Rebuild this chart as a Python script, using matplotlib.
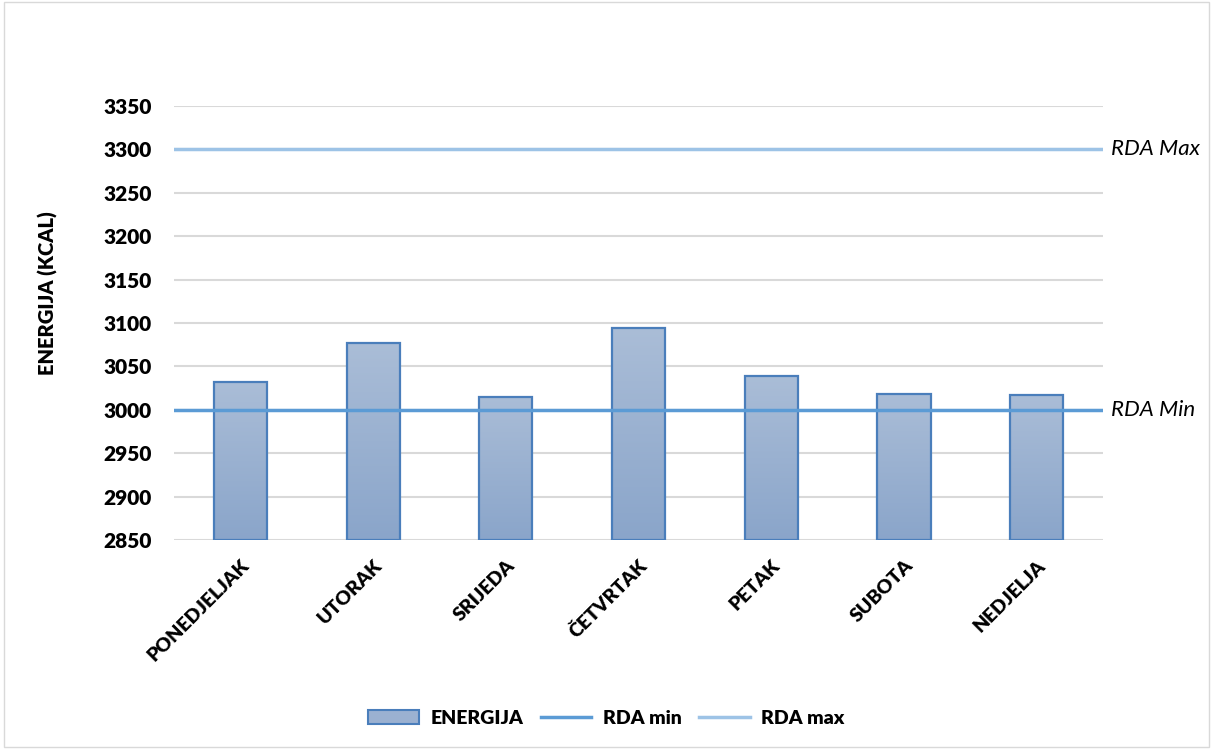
import numpy as np
import matplotlib.pyplot as plt
from matplotlib.patches import Patch
from matplotlib.lines import Line2D
from matplotlib.colors import LinearSegmentedColormap

days = ['PONEDJELJAK', 'UTORAK', 'SRIJEDA', 'ČETVRTAK', 'PETAK', 'SUBOTA', 'NEDJELJA']
energija = [3032, 3077, 3015, 3094, 3039, 3018, 3017]
rda_min = 3000
rda_max = 3300
y_ticks = [2850, 2900, 2950, 3000, 3050, 3100, 3150, 3200, 3250, 3300, 3350]

plt.rcParams['font.family'] = ['Lato', 'DejaVu Sans']
W = 'heavy'

fig = plt.figure(figsize=(12.13, 7.49), dpi=100)
ax = fig.add_axes([0.1434, 0.279, 0.766, 0.5795])

x = np.arange(len(days))
ax.set_xlim(-0.5, len(days) - 0.5)
ax.set_ylim(2850, 3350)

# horizontal grid
for t in y_ticks:
    ax.axhline(t, color='#d9d9d9', lw=1.5, zorder=0)

# bars, filled with a vertical gradient
cmap = LinearSegmentedColormap.from_list('g', ['#8aa5ca', '#aabdd7'])
grad = np.linspace(0, 1, 256).reshape(-1, 1)
bars = ax.bar(x, [v - 2850 for v in energija], bottom=2850, width=0.4,
              facecolor='none', edgecolor='#4a7ebb', lw=1.6, zorder=3)
for b in bars:
    x0 = b.get_x()
    im = ax.imshow(grad, cmap=cmap, aspect='auto', origin='lower',
                   extent=[x0, x0 + b.get_width(), 2850, 2850 + b.get_height()],
                   zorder=2)
    im.set_clip_path(b)

ax.axhline(rda_min, color='#5b9bd5', lw=2.5, zorder=4)
ax.axhline(rda_max, color='#9dc3e6', lw=2.5, zorder=4)

ax.text(1.008, rda_max, 'RDA Max', transform=ax.get_yaxis_transform(),
        style='italic', fontsize=16, va='center', ha='left')
ax.text(1.008, rda_min, 'RDA Min', transform=ax.get_yaxis_transform(),
        style='italic', fontsize=16, va='center', ha='left')

ax.set_yticks(y_ticks)
ax.set_yticklabels([str(t) for t in y_ticks], fontweight=W, fontsize=15)
ax.set_xticks(x)
ax.set_xticklabels(days, rotation=45, ha='right', rotation_mode='anchor',
                   fontweight=W, fontsize=14)
ax.tick_params(axis='y', length=0, pad=16)
ax.tick_params(axis='x', length=0, pad=12)
for s in ax.spines.values():
    s.set_visible(False)

fig.text(48 / 1213, 1 - 293 / 749, 'ENERGIJA (KCAL)', rotation=90,
         fontweight=W, fontsize=14.5, ha='center', va='center')

handles = [Patch(facecolor='#9bb1d1', edgecolor='#4a7ebb', lw=1.5),
           Line2D([], [], color='#5b9bd5', lw=2.5),
           Line2D([], [], color='#9dc3e6', lw=2.5)]
fig.legend(handles, ['ENERGIJA', 'RDA min', 'RDA max'], loc='center',
           bbox_to_anchor=(0.5, 0.041), ncol=3, frameon=False,
           prop={'weight': W, 'size': 14}, handlelength=2.6,
           columnspacing=0.9, handletextpad=0.6)

fig.patches.append(plt.Rectangle((0.003, 0.003), 0.994, 0.994, transform=fig.transFigure,
                                 fill=False, edgecolor='#d9d9d9', lw=1))

fig.savefig('out.png', dpi=100)
